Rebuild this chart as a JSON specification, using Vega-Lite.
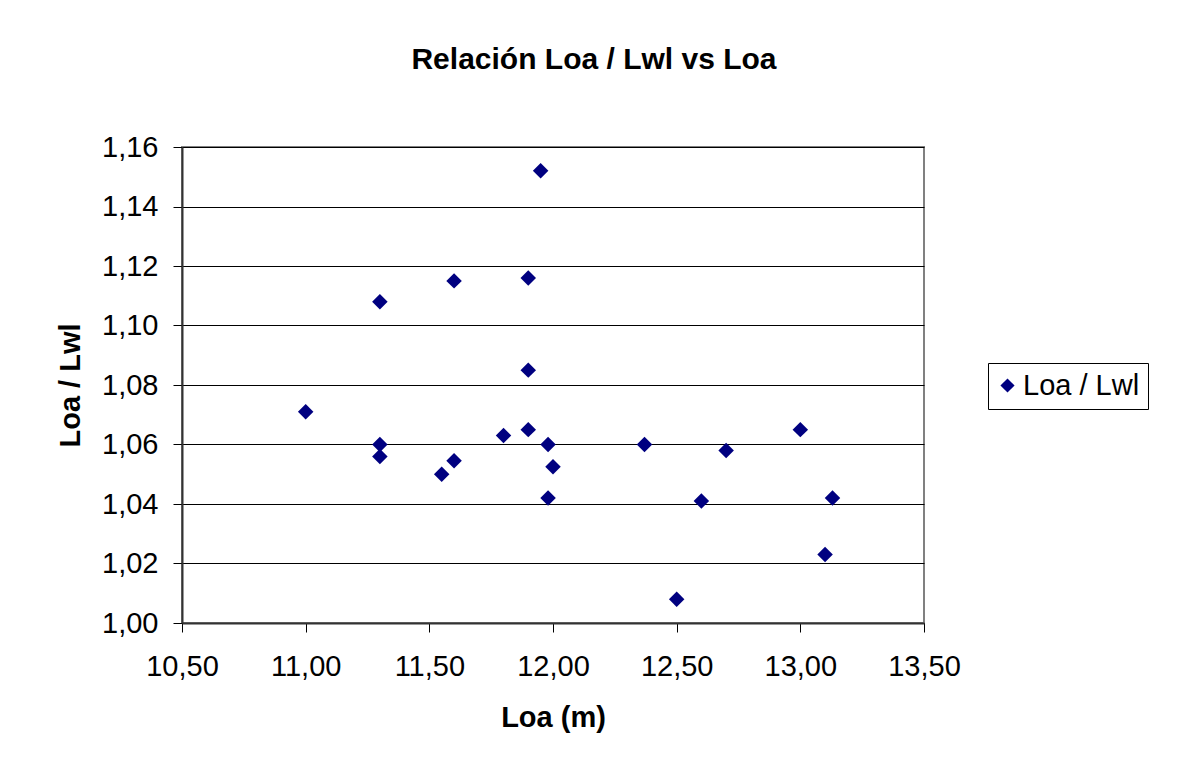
{
  "$schema": "https://vega.github.io/schema/vega-lite/v6.json",
  "width": 742,
  "height": 476,
  "autosize": {"type": "none"},
  "padding": {"left": 182, "top": 147, "right": 256, "bottom": 148},
  "background": "white",
  "title": {
    "text": "Relación Loa / Lwl vs Loa",
    "font": "Liberation Sans",
    "fontSize": 30,
    "fontWeight": "bold",
    "color": "#000000",
    "anchor": "middle",
    "frame": "group",
    "baseline": "alphabetic",
    "offset": 34,
    "dx": 41
  },
  "data": {
    "values": [
      {"loa": 11.00, "ratio": 1.071},
      {"loa": 11.30, "ratio": 1.108},
      {"loa": 11.30, "ratio": 1.060},
      {"loa": 11.30, "ratio": 1.056},
      {"loa": 11.55, "ratio": 1.050},
      {"loa": 11.60, "ratio": 1.115},
      {"loa": 11.60, "ratio": 1.0545},
      {"loa": 11.80, "ratio": 1.063},
      {"loa": 11.90, "ratio": 1.116},
      {"loa": 11.90, "ratio": 1.085},
      {"loa": 11.90, "ratio": 1.065},
      {"loa": 11.95, "ratio": 1.152},
      {"loa": 11.98, "ratio": 1.060},
      {"loa": 11.98, "ratio": 1.042},
      {"loa": 12.00, "ratio": 1.0525},
      {"loa": 12.37, "ratio": 1.060},
      {"loa": 12.50, "ratio": 1.008},
      {"loa": 12.60, "ratio": 1.041},
      {"loa": 12.70, "ratio": 1.058},
      {"loa": 13.00, "ratio": 1.065},
      {"loa": 13.10, "ratio": 1.023},
      {"loa": 13.13, "ratio": 1.042}
    ]
  },
  "mark": {"type": "point", "shape": "diamond", "filled": true, "size": 240, "opacity": 1},
  "encoding": {
    "x": {
      "field": "loa",
      "type": "quantitative",
      "scale": {"domain": [10.5, 13.5], "nice": false, "zero": false},
      "axis": {
        "title": "Loa (m)",
        "values": [10.5, 11, 11.5, 12, 12.5, 13, 13.5],
        "labelExpr": "replace(format(datum.value, '.2f'), '.', ',')",
        "grid": false,
        "tickSize": 9,
        "labelPadding": 20,
        "titlePadding": 22
      }
    },
    "y": {
      "field": "ratio",
      "type": "quantitative",
      "scale": {"domain": [1.0, 1.16], "nice": false, "zero": false},
      "axis": {
        "title": "Loa / Lwl",
        "values": [1.0, 1.02, 1.04, 1.06, 1.08, 1.1, 1.12, 1.14, 1.16],
        "labelExpr": "replace(format(datum.value, '.2f'), '.', ',')",
        "grid": true,
        "tickSize": 9,
        "labelPadding": 15,
        "titlePadding": 16
      }
    },
    "color": {
      "datum": "Loa / Lwl",
      "type": "nominal",
      "scale": {"range": ["#000080"]},
      "legend": {
        "title": null,
        "orient": "none",
        "legendX": 806,
        "legendY": 216,
        "symbolType": "diamond",
        "symbolSize": 200,
        "symbolStrokeWidth": 0,
        "symbolOffset": -3,
        "labelOffset": 1,
        "padding": 8,
        "strokeColor": "#000000",
        "fillColor": "#ffffff",
        "labelFont": "Liberation Sans",
        "labelFontSize": 29,
        "labelColor": "#000000"
      }
    }
  },
  "config": {
    "view": {"stroke": "#808080", "strokeWidth": 2},
    "axis": {
      "labelFont": "Liberation Sans",
      "labelFontSize": 29,
      "labelColor": "#000000",
      "titleFont": "Liberation Sans",
      "titleFontSize": 29,
      "titleFontWeight": "bold",
      "titleColor": "#000000",
      "domainColor": "#333333",
      "domainWidth": 2,
      "tickColor": "#000000",
      "tickWidth": 1,
      "gridColor": "#000000",
      "gridWidth": 1,
      "gridOpacity": 1,
      "domainOpacity": 1,
      "labelOverlap": false,
      "labelFlush": false
    }
  }
}
